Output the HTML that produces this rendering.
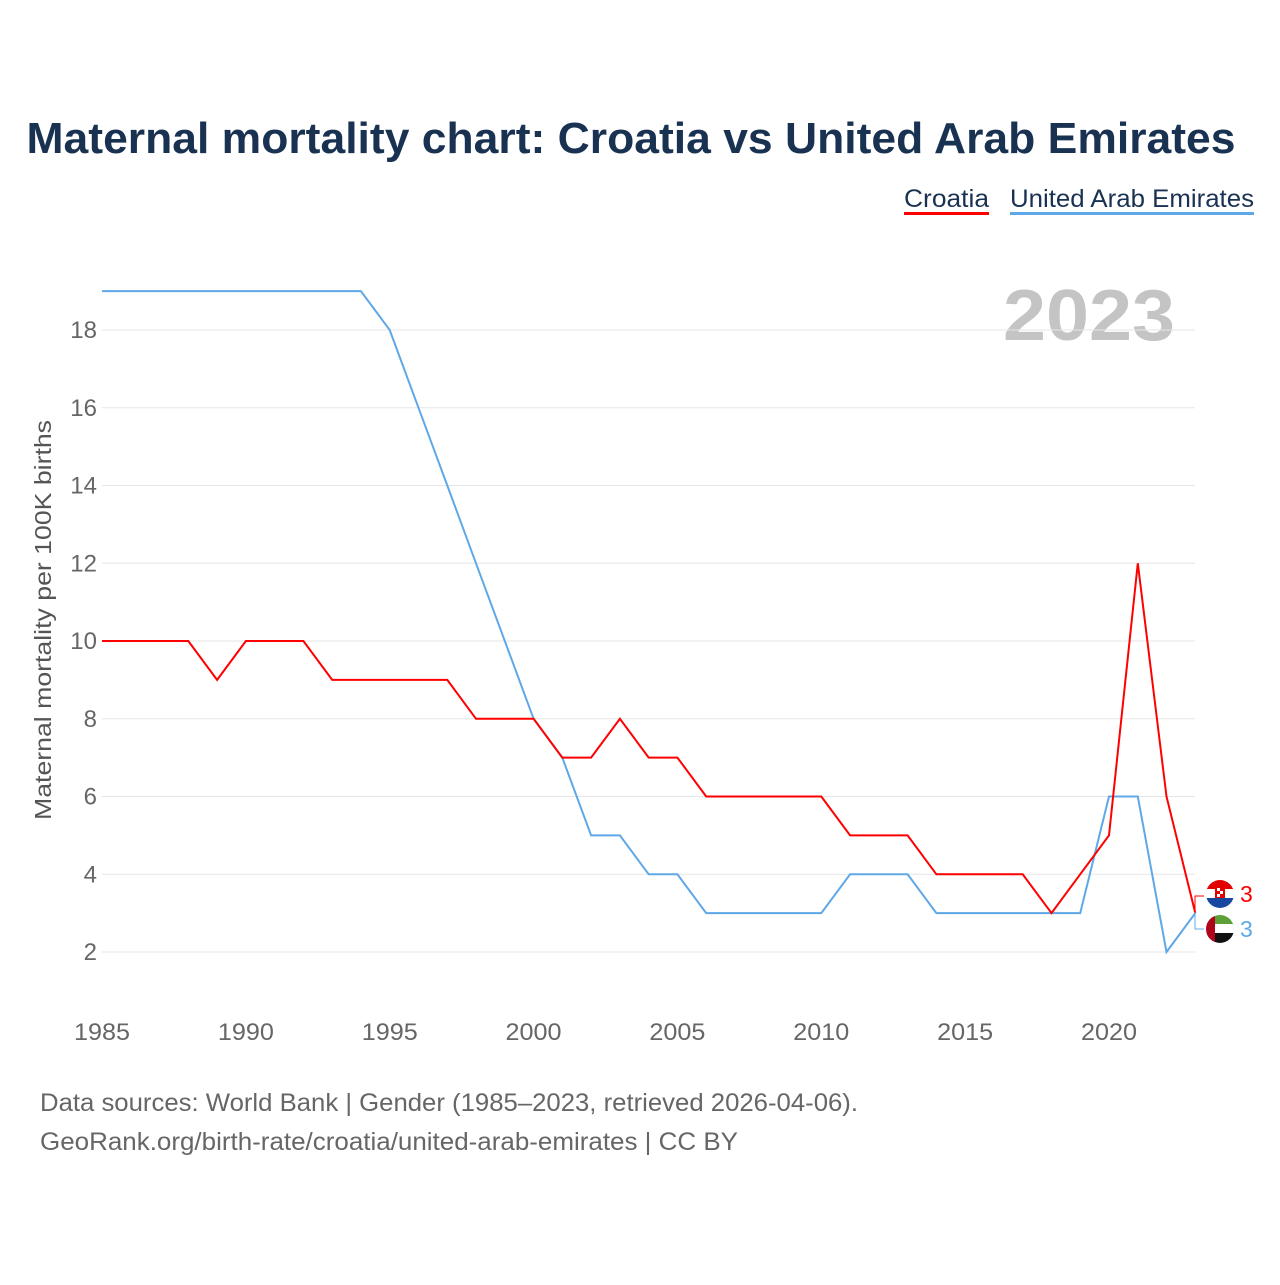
<!DOCTYPE html>
<html><head><meta charset="utf-8"><style>
body{margin:0;background:#fff;font-family:"Liberation Sans",sans-serif}
</style></head><body>
<svg width="1280" height="1280" xmlns="http://www.w3.org/2000/svg" id="svg">
<defs>
<clipPath id="c1"><circle cx="1220" cy="894" r="14"/></clipPath>
<clipPath id="c2"><circle cx="1220" cy="929" r="14"/></clipPath>
</defs>
<text x="631" y="153" text-anchor="middle" font-size="44" font-weight="bold" fill="#1a3252" textLength="1209" lengthAdjust="spacingAndGlyphs">Maternal mortality chart: Croatia vs United Arab Emirates</text>
<g><text x="904" y="207" font-size="25" fill="#1a3252" textLength="85" lengthAdjust="spacingAndGlyphs">Croatia</text><rect x="904" y="212" width="85" height="3" fill="#ff0000"/></g>
<g><text x="1010" y="207" font-size="25" fill="#1a3252" textLength="244" lengthAdjust="spacingAndGlyphs">United Arab Emirates</text><rect x="1010" y="212" width="244" height="3" fill="#5fa8e8"/></g>
<text x="1175" y="340" text-anchor="end" font-size="72" font-weight="bold" fill="#c4c4c4" textLength="172" lengthAdjust="spacingAndGlyphs">2023</text>
<text transform="translate(51,620) rotate(-90)" text-anchor="middle" font-size="23" fill="#555" textLength="400" lengthAdjust="spacingAndGlyphs">Maternal mortality per 100K births</text>
<g id="grid"></g><g id="lines"></g>
<text x="40" y="1111" font-size="25" fill="#666" textLength="818" lengthAdjust="spacingAndGlyphs">Data sources: World Bank | Gender (1985–2023, retrieved 2026-04-06).</text>
<text x="40" y="1150" font-size="25" fill="#666" textLength="698" lengthAdjust="spacingAndGlyphs">GeoRank.org/birth-rate/croatia/united-arab-emirates | CC BY</text>
<g clip-path="url(#c1)"><rect x="1206" y="880" width="28" height="10" fill="#e20000"/><rect x="1206" y="889" width="28" height="10" fill="#fff"/><rect x="1206" y="898" width="28" height="10" fill="#1747a0"/><rect x="1215" y="886" width="10" height="12" fill="#e20000"/><rect x="1217" y="888" width="3" height="3" fill="#fff"/><rect x="1220" y="891" width="3" height="3" fill="#fff"/><rect x="1217" y="894" width="3" height="3" fill="#fff"/></g>
<g clip-path="url(#c2)"><rect x="1206" y="915" width="28" height="10" fill="#5da035"/><rect x="1206" y="924" width="28" height="10" fill="#fff"/><rect x="1206" y="933" width="28" height="10" fill="#111"/><rect x="1206" y="915" width="9" height="28" fill="#b0061c"/></g>
<path d="M1195 912 V896 H1204" fill="none" stroke="#ff0000" stroke-width="1"/>
<path d="M1195 912 V929 H1204" fill="none" stroke="#5fa8e8" stroke-width="1"/>
<text x="1240" y="902" font-size="23" fill="#ff0000">3</text>
<text x="1240" y="937" font-size="23" fill="#5fa8e8">3</text>
</svg>
<script>
const years=[];for(let y=1985;y<=2023;y++)years.push(y);
const croatia=[10,10,10,10,9,10,10,10,9,9,9,9,9,8,8,8,7,7,8,7,7,6,6,6,6,6,5,5,5,4,4,4,4,3,4,5,12,6,3];
const uae=[19,19,19,19,19,19,19,19,19,19,18,16,14,12,10,8,7,5,5,4,4,3,3,3,3,3,4,4,4,3,3,3,3,3,3,6,6,2,3];
const yTicks=[2,4,6,8,10,12,14,16,18];
const xTicks=[1985,1990,1995,2000,2005,2010,2015,2020];
const X=y=>102+(y-1985)*(1007/35);
const Y=v=>1029.75-v*38.875;
const ns="http://www.w3.org/2000/svg";
const g=document.getElementById('grid'),L=document.getElementById('lines');
function mk(t,a,p){const e=document.createElementNS(ns,t);for(const k in a)e.setAttribute(k,a[k]);p.appendChild(e);return e;}
yTicks.forEach(v=>{
const l=mk('line',{x1:102,x2:1195,y1:Y(v),y2:Y(v),stroke:'#e6e6e6'},g);


const t=mk('text',{x:97,y:Y(v)+8,'text-anchor':'end','font-size':24,fill:'#666'},g);t.textContent=v;


});
xTicks.forEach(v=>{
const t=mk('text',{x:X(v),y:1040,'text-anchor':'middle','font-size':24,fill:'#666',textLength:56,lengthAdjust:'spacingAndGlyphs'},g);t.textContent=v;


});
function line(d,c,n){const p=mk('path',{d:d.map((v,i)=>(i?'L':'M')+X(years[i]).toFixed(1)+' '+Y(v).toFixed(1)).join(''),fill:'none',stroke:c,'stroke-width':2},L);

}
line(uae,'#5fa8e8','line-uae');
line(croatia,'#ff0000','line-croatia');
</script>
</body></html>
